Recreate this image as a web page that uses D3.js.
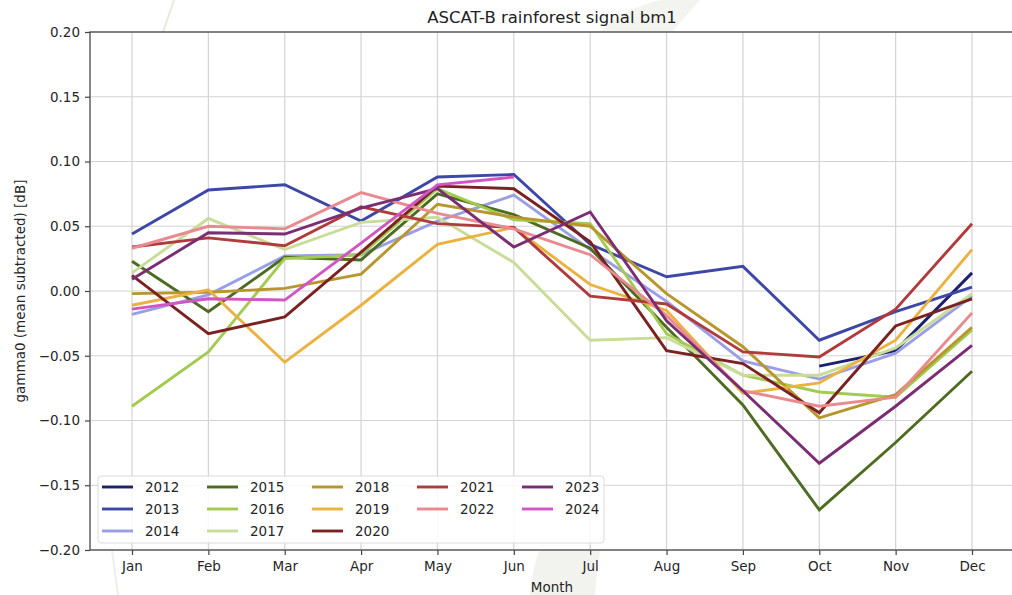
<!DOCTYPE html>
<html>
<head>
<meta charset="utf-8">
<script src="https://cdn.jsdelivr.net/npm/d3@7"></script>
<style>
  body { margin: 0; background: #fff; }
  svg { display: block; font-family: "DejaVu Sans", sans-serif; }
</style>
</head>
<body>
<div id="chart"></div>
<script>
// month labels on the x axis
const months = ['Jan', 'Feb', 'Mar', 'Apr', 'May', 'Jun', 'Jul', 'Aug', 'Sep', 'Oct', 'Nov', 'Dec'];
const yTicks = [-0.20, -0.15, -0.10, -0.05, 0.00, 0.05, 0.10, 0.15, 0.20];

const years = ['2012', '2013', '2014', '2015', '2016', '2017', '2018', '2019', '2020', '2021', '2022', '2023', '2024'];
const colors = ['#1c2170', '#3d47a6', '#9a9ee6', '#4e6b22', '#a3cb52', '#c9dc98', '#b8962e', '#ebb23f', '#7a2222', '#b03b3d', '#e98a90', '#7b2d73', '#d255c4'];

// gamma0 anomaly per month [dB], null = no data
const v2012 = [null, null, null, null, null, null, null, null, null, -0.058, -0.046, 0.014];
const v2013 = [0.044, 0.078, 0.082, 0.054, 0.088, 0.090, 0.036, 0.011, 0.019, -0.038, -0.016, 0.003];
const v2014 = [-0.018, -0.003, 0.027, 0.028, 0.054, 0.074, 0.032, -0.008, -0.054, -0.068, -0.048, -0.004];
const v2015 = [0.023, -0.016, 0.026, 0.024, 0.075, 0.059, 0.033, -0.028, -0.088, -0.169, -0.117, -0.062];
const v2016 = [-0.089, -0.047, 0.025, 0.028, 0.079, 0.055, 0.052, -0.033, -0.065, -0.078, -0.082, -0.030];
const v2017 = [0.014, 0.056, 0.032, 0.053, 0.057, 0.022, -0.038, -0.036, -0.065, -0.065, -0.044, -0.002];
const v2018 = [-0.002, -0.001, 0.002, 0.013, 0.067, 0.057, 0.050, -0.002, -0.043, -0.098, -0.080, -0.028];
const v2019 = [-0.011, 0.001, -0.055, -0.011, 0.036, 0.049, 0.005, -0.015, -0.079, -0.071, -0.038, 0.032];
const v2020 = [0.012, -0.033, -0.020, 0.030, 0.081, 0.079, 0.038, -0.046, -0.056, -0.094, -0.027, -0.006];
const v2021 = [0.034, 0.041, 0.035, 0.065, 0.052, 0.049, -0.004, -0.010, -0.047, -0.051, -0.014, 0.052];
const v2022 = [0.033, 0.050, 0.048, 0.076, 0.060, 0.048, 0.028, -0.019, -0.077, -0.089, -0.082, -0.017];
const v2023 = [0.009, 0.045, 0.044, 0.064, 0.079, 0.034, 0.061, -0.023, -0.077, -0.133, -0.089, -0.042];
const v2024 = [-0.014, -0.006, -0.007, 0.037, 0.082, 0.088, null, null, null, null, null, null];

const series = [v2012, v2013, v2014, v2015, v2016, v2017, v2018, v2019, v2020, v2021, v2022, v2023, v2024]
  .map((values, i) => ({ year: years[i], color: colors[i], values }));

const width = 1012;
const height = 595;
const margin = { top: 32, right: -2, bottom: 45, left: 90 };
const w = width - margin.left - margin.right;
const h = height - margin.top - margin.bottom;

const svg = d3.select('#chart')
  .append('svg')
  .attr('width', width)
  .attr('height', height);

// faint slide background shapes outside the axes
svg.append('path')
  .attr('d', 'M163,32 L174,0')
  .attr('stroke', '#e6ebdc')
  .attr('stroke-width', 2)
  .attr('fill', 'none');
svg.append('path')
  .attr('d', 'M600,32 C615,15 640,5 660,0 L700,0 C690,12 680,22 672,32 Z')
  .attr('fill', '#f3f4f0');
svg.append('path')
  .attr('d', 'M530,595 C532,575 535,560 540,551 L600,551 C598,565 596,580 595,595 Z')
  .attr('fill', '#f2f3ef');
svg.append('path')
  .attr('d', 'M112,551 L118,595')
  .attr('stroke', '#eeeeea')
  .attr('stroke-width', 2);

const g = svg.append('g')
  .attr('transform', `translate(${margin.left},${margin.top})`);

g.append('rect')
  .attr('width', w)
  .attr('height', h)
  .attr('fill', '#fff');

const x = d3.scaleLinear()
  .domain([-0.55, months.length - 1 + 0.55])
  .range([0, w]);

const y = d3.scaleLinear()
  .domain([-0.2, 0.2])
  .range([h, 0]);

// grid
g.append('g')
  .selectAll('line')
  .data(months)
  .join('line')
  .attr('x1', (d, i) => x(i))
  .attr('x2', (d, i) => x(i))
  .attr('y1', 0)
  .attr('y2', h)
  .attr('stroke', '#d3d3d3')
  .attr('stroke-width', 1.2);

g.append('g')
  .selectAll('line')
  .data(yTicks)
  .join('line')
  .attr('x1', 0)
  .attr('x2', w)
  .attr('y1', d => y(d))
  .attr('y2', d => y(d))
  .attr('stroke', '#d3d3d3')
  .attr('stroke-width', 1.2);

// lines
const line = d3.line()
  .defined(d => d != null)
  .x((d, i) => x(i))
  .y(d => y(d));

g.append('g')
  .selectAll('path')
  .data(series)
  .join('path')
  .attr('fill', 'none')
  .attr('stroke', d => d.color)
  .attr('stroke-width', 2.9)
  .attr('stroke-linejoin', 'miter')
  .attr('d', d => line(d.values));

// axes
const xAxis = g.append('g')
  .attr('transform', `translate(0,${h})`)
  .call(d3.axisBottom(x)
    .tickValues(d3.range(months.length))
    .tickFormat(i => months[i])
    .tickSize(5)
    .tickPadding(6));

const yAxis = g.append('g')
  .call(d3.axisLeft(y)
    .tickValues(yTicks)
    .tickFormat(d3.format('.2f'))
    .tickSize(5)
    .tickPadding(5));

[xAxis, yAxis].forEach(a => {
  a.selectAll('text')
    .attr('font-size', '13.5px')
    .attr('fill', '#262626')
    .attr('font-family', '"DejaVu Sans", sans-serif');
  a.selectAll('line').attr('stroke', '#444').attr('stroke-width', 1.2);
  a.select('.domain').remove();
});

// frame
g.append('rect')
  .attr('width', w)
  .attr('height', h)
  .attr('fill', 'none')
  .attr('stroke', '#555')
  .attr('stroke-width', 1.4);

// title and axis labels
g.append('text')
  .attr('x', w / 2)
  .attr('y', -9)
  .attr('text-anchor', 'middle')
  .attr('font-size', '16.5px')
  .attr('fill', '#222')
  .text('ASCAT-B rainforest signal bm1');

g.append('text')
  .attr('x', w / 2)
  .attr('y', h + 42)
  .attr('text-anchor', 'middle')
  .attr('font-size', '13.5px')
  .attr('fill', '#262626')
  .text('Month');

g.append('text')
  .attr('transform', `translate(${-65},${h / 2}) rotate(-90)`)
  .attr('text-anchor', 'middle')
  .attr('font-size', '13.5px')
  .attr('fill', '#262626')
  .text('gamma0 (mean subtracted) [dB]');

// legend, 5 columns filled top to bottom
const perCol = [3, 3, 3, 2, 2];
const legendItems = [];
let k = 0;
perCol.forEach((n, col) => {
  for (let r = 0; r < n; r++) {
    legendItems.push({ s: series[k], col, row: r });
    k++;
  }
});

const legend = g.append('g')
  .attr('transform', `translate(8,${h - 74})`);

legend.append('rect')
  .attr('width', 506)
  .attr('height', 67)
  .attr('rx', 3)
  .attr('fill', 'rgba(255,255,255,0.85)')
  .attr('stroke', '#dcdcdc');

const item = legend.selectAll('g.item')
  .data(legendItems)
  .join('g')
  .attr('class', 'item')
  .attr('transform', d => `translate(${4 + d.col * 105},${11 + d.row * 22})`);

item.append('line')
  .attr('x1', 0)
  .attr('x2', 31)
  .attr('stroke', d => d.s.color)
  .attr('stroke-width', 2.9);

item.append('text')
  .attr('x', 43)
  .attr('dy', '0.35em')
  .attr('font-size', '13.5px')
  .attr('fill', '#262626')
  .text(d => d.s.year);
</script>
</body>
</html>
